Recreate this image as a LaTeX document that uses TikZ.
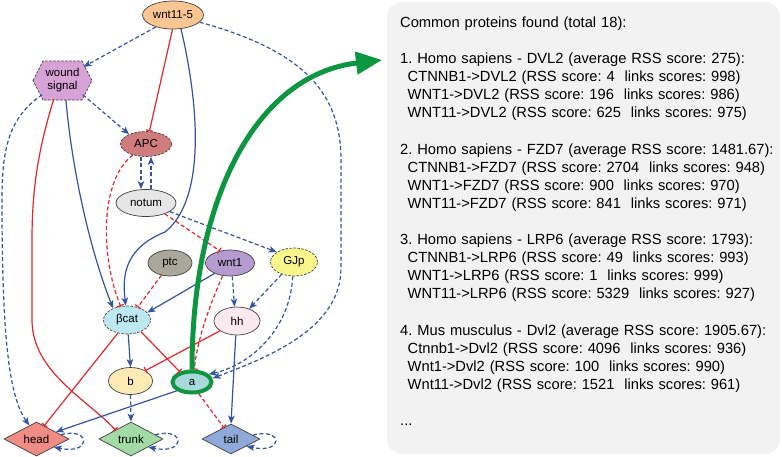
\documentclass[tikz,border=0pt]{standalone}
\usepackage{fontspec}
\setmainfont{Liberation Sans}
\usetikzlibrary{shapes.geometric,arrows.meta,calc}

\definecolor{linkblue}{HTML}{3353A3}
\definecolor{linkred}{HTML}{E3262B}
\definecolor{hitgreen}{HTML}{0D9640}
\definecolor{boxgray}{HTML}{F2F2F2}
\definecolor{wntorange}{HTML}{FBC692}
\definecolor{woundpink}{HTML}{D7A2D6}
\definecolor{apcred}{HTML}{CF7C7C}
\definecolor{notumgray}{HTML}{E6E6E6}
\definecolor{ptcgray}{HTML}{A9A89A}
\definecolor{wntpurple}{HTML}{B49CD1}
\definecolor{gjpyellow}{HTML}{F8F58A}
\definecolor{bcatcyan}{HTML}{BEE8F1}
\definecolor{hhpink}{HTML}{FCE9EF}
\definecolor{byellow}{HTML}{FEEAB4}
\definecolor{ateal}{HTML}{A8DADB}
\definecolor{headred}{HTML}{F08C84}
\definecolor{trunkgreen}{HTML}{A2DBA5}
\definecolor{tailblue}{HTML}{8FAAD9}

\begin{document}
\frenchspacing
\begin{tikzpicture}[x=1pt,y=1pt,
  >={Stealth[length=8pt,width=6.5pt,inset=2pt]},
  gene/.style={ellipse,draw=black!75,line width=0.7pt,inner sep=0pt,
    minimum width=46pt,minimum height=27pt,font=\fontsize{11.5}{13}\selectfont},
  dgene/.style={gene,dash pattern=on 2.5pt off 1.5pt},
  bodypart/.style={diamond,draw=black!75,line width=0.7pt,inner sep=0pt,
    minimum width=64pt,minimum height=30pt,font=\fontsize{11.5}{13}\selectfont},
  promote/.style={draw=linkblue,line width=1.2pt,->},
  dpromote/.style={promote,dash pattern=on 4pt off 2.5pt},
  repress/.style={draw=linkred,line width=1.2pt,-{Bar[width=7pt]}},
  drepress/.style={repress,dash pattern=on 4pt off 2.5pt}]

\useasboundingbox (0,0) rectangle (782,-456);

% result panel
\fill[boxgray,rounded corners=15pt] (387,-2) rectangle (780,-454);
\node[anchor=base west,inner sep=0pt,text width=378pt,align=left,
  font=\fontsize{14.7}{18.1}\selectfont\frenchspacing] (info) at (400,-27.3) {%
Common proteins found (total 18):\\[18.1pt]
1. Homo sapiens - DVL2 (average RSS score: 275):\\
\hspace*{7.5pt}CTNNB1->DVL2 (RSS score: 4~ links scores: 998)\\
\hspace*{7.5pt}WNT1->DVL2 (RSS score: 196~ links scores: 986)\\
\hspace*{7.5pt}WNT11->DVL2 (RSS score: 625~ links scores: 975)\\[18.1pt]
2. Homo sapiens - FZD7 (average RSS score: 1481.67):\\
\hspace*{7.5pt}CTNNB1->FZD7 (RSS score: 2704~ links scores: 948)\\
\hspace*{7.5pt}WNT1->FZD7 (RSS score: 900~ links scores: 970)\\
\hspace*{7.5pt}WNT11->FZD7 (RSS score: 841~ links scores: 971)\\[18.1pt]
3. Homo sapiens - LRP6 (average RSS score: 1793):\\
\hspace*{7.5pt}CTNNB1->LRP6 (RSS score: 49~ links scores: 993)\\
\hspace*{7.5pt}WNT1->LRP6 (RSS score: 1~ links scores: 999)\\
\hspace*{7.5pt}WNT11->LRP6 (RSS score: 5329~ links scores: 927)\\[18.1pt]
4. Mus musculus - Dvl2 (average RSS score: 1905.67):\\
\hspace*{7.5pt}Ctnnb1->Dvl2 (RSS score: 4096~ links scores: 936)\\
\hspace*{7.5pt}Wnt1->Dvl2 (RSS score: 100~ links scores: 990)\\
\hspace*{7.5pt}Wnt11->Dvl2 (RSS score: 1521~ links scores: 961)\\[18.1pt]
...};

% wound signal hexagon
\draw[fill=woundpink,draw=black!75,line width=0.7pt,dash pattern=on 2.5pt off 1.5pt]
  (33,-80.5) -- (43,-61) -- (82,-61) -- (92,-80.5) -- (82,-100) -- (43,-100) -- cycle;
\node[ellipse,inner sep=0pt,minimum width=58pt,minimum height=39pt,align=center,
  font=\fontsize{11.5}{13}\selectfont] (wound) at (62.5,-80.5) {wound\\signal};

% genes
\node[gene,fill=wntorange,minimum width=61pt,minimum height=28pt] (wnt115) at (173,-15) {wnt11-5};
\node[dgene,fill=apcred,minimum width=51pt,minimum height=25pt] (apc) at (146,-144) {APC};
\node[gene,fill=notumgray,minimum width=60pt] (notum) at (146,-203) {notum};
\node[gene,fill=ptcgray,minimum width=44pt,minimum height=26pt] (ptc) at (170,-263) {ptc};
\node[gene,fill=wntpurple,minimum width=49pt,minimum height=26pt] (wnt1) at (230,-263) {wnt1};
\node[dgene,fill=gjpyellow,minimum width=47pt,minimum height=28pt] (gjp) at (294,-262) {GJp};
\node[dgene,fill=bcatcyan,minimum width=47pt,minimum height=28pt] (bcat) at (127,-320) {βcat};
\node[gene,fill=hhpink,minimum height=28pt] (hh) at (237,-321) {hh};
\node[gene,fill=byellow,minimum width=44pt] (b) at (130.5,-381) {b};
\node[gene,fill=ateal,draw=hitgreen,line width=4pt,minimum width=39pt,minimum height=21pt] (a) at (192,-382) {a};

% body regions
\node[bodypart,fill=headred,minimum width=65pt] (head) at (36.5,-439) {head};
\node[bodypart,fill=trunkgreen] (trunk) at (131,-439) {trunk};
\node[bodypart,fill=tailblue,minimum width=58pt] (tail) at (231,-439) {tail};

% links
\draw[dpromote] (wnt115.215) -- (wound.33);
\draw[repress] (wnt115.268) -- (apc.75);
\draw[promote] (wnt115.300) .. controls (200,-110) and (205,-200) .. (165,-232)
  .. controls (125,-248) and (122,-275) .. (bcat.95);
\draw[dpromote] (wnt115.-15) .. controls (300,-50) and (341,-90) .. (341,-160) -- (341,-268)
  .. controls (341,-330) and (265,-358) .. (a.10);

\draw[dpromote] (wound.-35) -- (apc.150);
\draw[dpromote] (wound.215) .. controls (8,-118) and (2,-150) .. (2,-200)
  .. controls (2,-330) and (8,-395) .. (head.118);
\draw[repress] (wound.245) .. controls (38,-150) and (32,-190) .. (32,-240) -- (32,-320)
  .. controls (32,-372) and (88,-400) .. (trunk.150);
\draw[promote] (wound.280) .. controls (72,-170) and (90,-250) .. (bcat.140);

\draw[dpromote] ([xshift=-5pt]apc.south) -- ([xshift=-5pt]notum.north);
\draw[dpromote] ([xshift=5pt]notum.north) -- ([xshift=5pt]apc.south);
\draw[drepress] (apc.220) .. controls (100,-180) and (100,-255) .. (bcat.115);

\draw[drepress] (notum.-30) -- (wnt1.130);
\draw[dpromote] (notum.-20) -- (gjp.150);

\draw[drepress] (ptc.235) -- (bcat.50);

\draw[promote] (wnt1.214) -- (bcat.20);
\draw[dpromote] (wnt1.-80) -- (hh.100);
\draw[drepress] (wnt1.240) .. controls (212,-300) and (198,-335) .. (a.80);

\draw[dpromote] (gjp.225) -- (hh.45);
\draw[dpromote] (gjp.265) .. controls (290,-330) and (250,-365) .. (a.25);

\draw[repress] (hh.210) -- (b.35);
\draw[promote] (hh.-95) -- (tail.north);

\draw[promote] (bcat.-85) -- (b.north);
\draw[repress] (bcat.-40) -- (a.140);
\draw[repress] (bcat.235) -- (head.60);

\draw[dpromote] (b.south) -- (trunk.north);

\draw[promote] (a.210) -- (head.20);
\draw[drepress] (a.-60) -- (tail.122);

% self loops
\draw[dpromote] (head.10) .. controls +(30,8) and +(38,-8) .. (head.-25);
\draw[dpromote] (trunk.10) .. controls +(30,8) and +(38,-8) .. (trunk.-25);
\draw[dpromote] (tail.10) .. controls +(30,8) and +(38,-8) .. (tail.-25);

% hit arrow
\coordinate (hittip) at (382,-60);
\draw[hitgreen,line width=5pt,-{Triangle[length=26pt,width=22pt]}]
  (a.north) .. controls (192,-200) and (255,-75) .. (hittip);

\end{tikzpicture}
\end{document}
